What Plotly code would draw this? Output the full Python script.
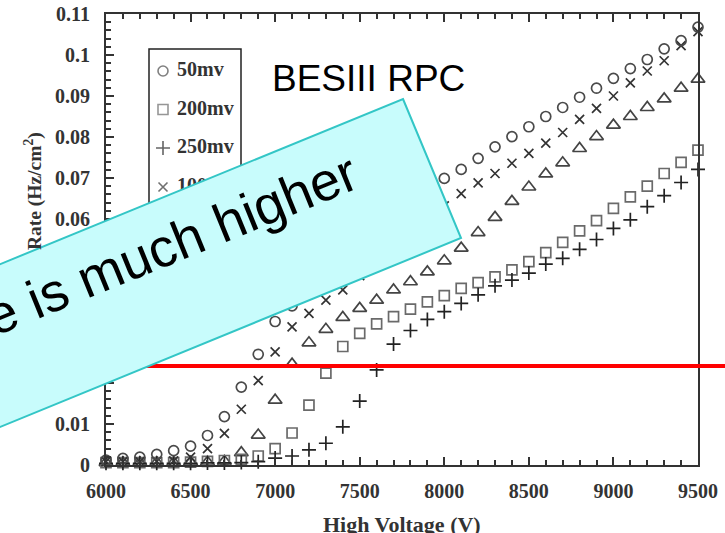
import plotly.graph_objects as go

# ---- measured noise rate vs. high voltage, one series per threshold ----
voltage = [6000, 6100, 6200, 6300, 6400, 6500, 6600, 6700, 6800, 6900,
           7000, 7100, 7200, 7300, 7400, 7500, 7600, 7700, 7800, 7900,
           8000, 8100, 8200, 8300, 8400, 8500, 8600, 8700, 8800, 8900,
           9000, 9100, 9200, 9300, 9400, 9500]

rate_50mv = [0.0012, 0.0016, 0.0019, 0.0026, 0.0035, 0.0046, 0.0072, 0.0118, 0.0190, 0.0270,
             0.0350, 0.0388, 0.0422, 0.0456, 0.0490, 0.0524, 0.0558, 0.0594, 0.0630, 0.0665,
             0.0699, 0.0721, 0.0748, 0.0776, 0.0801, 0.0825, 0.0850, 0.0872, 0.0897, 0.0919,
             0.0943, 0.0967, 0.0989, 0.1015, 0.1035, 0.1068]

rate_100mv = [0.0008, 0.0008, 0.0008, 0.0009, 0.0010, 0.0019, 0.0040, 0.0077, 0.0136, 0.0206,
              0.0276, 0.0337, 0.0370, 0.0402, 0.0427, 0.0462, 0.0497, 0.0531, 0.0566, 0.0600,
              0.0632, 0.0662, 0.0688, 0.0711, 0.0736, 0.0760, 0.0785, 0.0811, 0.0843, 0.0870,
              0.0900, 0.0932, 0.0961, 0.0986, 0.1023, 0.1057]

rate_150mv = [0.0006, 0.0006, 0.0006, 0.0006, 0.0006, 0.0007, 0.0007, 0.0009, 0.0030, 0.0073,
              0.0158, 0.0246, 0.0298, 0.0331, 0.0360, 0.0382, 0.0402, 0.0427, 0.0447, 0.0471,
              0.0498, 0.0529, 0.0567, 0.0604, 0.0643, 0.0678, 0.0710, 0.0737, 0.0772, 0.0801,
              0.0829, 0.0850, 0.0872, 0.0893, 0.0919, 0.0941]

rate_200mv = [0.0006, 0.0006, 0.0006, 0.0006, 0.0006, 0.0007, 0.0009, 0.0011, 0.0014, 0.0022,
              0.0040, 0.0078, 0.0146, 0.0224, 0.0289, 0.0321, 0.0344, 0.0362, 0.0380, 0.0398,
              0.0413, 0.0431, 0.0445, 0.0459, 0.0476, 0.0496, 0.0518, 0.0543, 0.0571, 0.0596,
              0.0626, 0.0654, 0.0680, 0.0711, 0.0738, 0.0768]

rate_250mv = [0.0004, 0.0004, 0.0004, 0.0004, 0.0004, 0.0004, 0.0005, 0.0005, 0.0006, 0.0008,
              0.0017, 0.0022, 0.0037, 0.0053, 0.0093, 0.0156, 0.0232, 0.0295, 0.0328, 0.0355,
              0.0374, 0.0394, 0.0415, 0.0437, 0.0451, 0.0468, 0.0490, 0.0504, 0.0526, 0.0550,
              0.0577, 0.0598, 0.0630, 0.0657, 0.0689, 0.0721]

x_ticks = [6000, 6500, 7000, 7500, 8000, 8500, 9000, 9500]

# legend order as printed in the key box
legend_labels = ["50mv", "200mv", "250mv", "100mv", "150mv"]

# ---- geometry (pixels) ----
W, H = 725, 533
L, R, T, B = 106, 698, 14, 465


def px(x, y):
    """pixel position -> paper coordinates"""
    return (x - L) / (R - L), (B - y) / (B - T)


SERIF = "Liberation Serif, Times New Roman, serif"
SANS = "Liberation Sans, Arial, sans-serif"
INK = "#333333"

styles = {
    "50mv": dict(y=rate_50mv, symbol="circle-open", size=10, color="#4a4a4a"),
    "100mv": dict(y=rate_100mv, symbol="x-thin-open", size=9, color="#333333"),
    "150mv": dict(y=rate_150mv, symbol="triangle-up-open", size=12, color="#444444"),
    "200mv": dict(y=rate_200mv, symbol="square-open", size=10, color="#6a6a6a"),
    "250mv": dict(y=rate_250mv, symbol="cross-thin-open", size=10, color="#222222"),
}

fig = go.Figure()

for name in ["150mv", "200mv", "250mv", "100mv", "50mv"]:
    s = styles[name]
    fig.add_trace(go.Scatter(
        x=voltage, y=s["y"], mode="markers", name=name, showlegend=False,
        cliponaxis=False,
        marker=dict(symbol=s["symbol"], size=s["size"], color=s["color"],
                    line=dict(width=1.7, color=s["color"])),
    ))

# ---- key box drawn on an overlay axis so that the banner can cover it ----
row_px = [71, 109.5, 148, 187, 226]
sym_x, _ = px(163, 0)
txt_x, _ = px(177, 0)
row_y = [px(0, r)[1] for r in row_px]
fig.add_trace(go.Scatter(
    x=[sym_x] * len(legend_labels), y=row_y, mode="markers",
    xaxis="x2", yaxis="y2", showlegend=False, cliponaxis=False,
    marker=dict(symbol=[styles[n]["symbol"] for n in legend_labels],
                size=[styles[n]["size"] for n in legend_labels],
                color=[styles[n]["color"] for n in legend_labels],
                line=dict(width=1.6, color=[styles[n]["color"] for n in legend_labels])),
))
fig.add_trace(go.Scatter(
    x=[txt_x] * len(legend_labels), y=row_y, mode="text",
    text=["<b>%s</b>" % t for t in legend_labels], textposition="middle right",
    xaxis="x2", yaxis="y2", showlegend=False, cliponaxis=False,
    textfont=dict(family=SERIF, size=20, color=INK),
))

lx0, ly0 = px(149, 49)
lx1, ly1 = px(241, 246)
shapes = [
    dict(type="rect", xref="paper", yref="paper", x0=lx0, x1=lx1, y0=ly1, y1=ly0,
         layer="below", line=dict(color="#222222", width=1.5), fillcolor="white"),
]

# red reference line
_, red_y = px(0, 366)
rx0, _ = px(90, 0)
rx1, _ = px(W + 5, 0)
shapes.append(dict(type="line", xref="paper", yref="paper", x0=rx0, x1=rx1,
                   y0=red_y, y1=red_y, layer="above",
                   line=dict(color="#ff0000", width=4)))

# rotated call-out banner
corner_a = (403, 99)
corner_b = (461, 238)
corner_c = (-80, 459.8)
corner_d = (corner_c[0] + corner_a[0] - corner_b[0], corner_c[1] + corner_a[1] - corner_b[1])
pts = [px(*p) for p in (corner_a, corner_b, corner_c, corner_d)]
path = "M " + " L ".join(f"{x:.5f},{y:.5f}" for x, y in pts) + " Z"
shapes.append(dict(type="path", path=path, xref="paper", yref="paper", layer="above",
                   fillcolor="#c8fcfc", line=dict(color="#33c6c6", width=2)))

bx, by = px(171, 244)
tx, ty = px(368, 78)
yx, yy = px(33, 191)
hx, hy = px(402, 524)
annotations = [
    dict(text="e is much higher", x=bx, y=by, xref="paper", yref="paper",
         showarrow=False, textangle=-22.2, xanchor="center", yanchor="middle",
         font=dict(family=SANS, size=54, color="black")),
    dict(text="BESIII RPC", x=tx, y=ty, xref="paper", yref="paper",
         showarrow=False, xanchor="center", yanchor="middle",
         font=dict(family=SANS, size=37, color="black")),
    dict(text="<b>Rate (Hz/cm<sup>2</sup>)</b>", x=yx, y=yy, xref="paper", yref="paper",
         showarrow=False, textangle=-90, xanchor="center", yanchor="middle",
         font=dict(family=SERIF, size=19.5, color=INK)),
    dict(text="<b>High Voltage (V)</b>", x=hx, y=hy, xref="paper", yref="paper",
         showarrow=False, xanchor="center", yanchor="middle",
         font=dict(family=SERIF, size=22, color=INK)),
]

axis_common = dict(
    showline=True, linecolor="#333333", linewidth=2, showgrid=False, zeroline=False,
    ticks="inside", tickcolor="#333333", tickwidth=1.5, ticklen=8, automargin=False,
    tickfont=dict(family=SERIF, size=20, color=INK, weight="bold"),
)

fig.update_layout(
    width=W, height=H,
    margin=dict(l=L, r=W - R, t=T, b=H - B, pad=0),
    paper_bgcolor="white", plot_bgcolor="white",
    showlegend=False,
    xaxis=dict(range=[6000, 9500], tickvals=x_ticks, mirror="ticks",
               minor=dict(dtick=100, ticks="inside", ticklen=5, tickcolor="#333333", tickwidth=1.5),
               ticklabelstandoff=7,
               **axis_common),
    yaxis=dict(range=[0, 0.11], dtick=0.01, tick0=0, mirror=True,
               minor=dict(dtick=0.002, ticks="inside", ticklen=5, tickcolor="#333333", tickwidth=1.5),
               ticklabelstandoff=10,
               **axis_common),
    xaxis2=dict(range=[0, 1], overlaying="x", visible=False),
    yaxis2=dict(range=[0, 1], overlaying="y", visible=False),
    shapes=shapes,
    annotations=annotations,
)

fig.write_html("out.html")
